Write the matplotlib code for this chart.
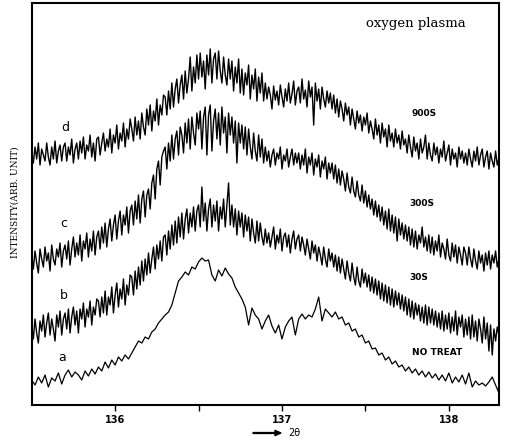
import numpy as np
import matplotlib
matplotlib.use("Agg")
import matplotlib.pyplot as plt

# 2-theta sampling grids (deg)
two_theta_a = np.round(np.linspace(135.5, 138.3, 141), 2)
two_theta = np.round(np.linspace(135.5, 138.3, 281), 2)

# intensity (arb. unit, offset traces)
no_treat = [25, 20, 28, 22, 30, 18, 27, 24, 32, 21, 30, 35, 28, 33, 30, 25, 34, 29, 36, 31,
            38, 34, 43, 37, 45, 40, 48, 44, 50, 46, 52, 58, 64, 62, 68, 66, 73, 76, 82, 86,
            90, 93, 100, 112, 124, 128, 133, 130, 138, 136, 143, 147, 144, 145, 130, 124, 135, 129, 137, 131,
            127, 118, 112, 106, 98, 80, 97, 90, 86, 76, 84, 90, 79, 72, 80, 66, 78, 84, 88, 70,
            86, 91, 86, 90, 88, 96, 108, 84, 96, 92, 88, 93, 86, 88, 80, 82, 74, 76, 68, 70,
            62, 64, 56, 57, 50, 52, 45, 48, 41, 44, 38, 40, 34, 38, 32, 36, 30, 34, 28, 33,
            27, 31, 25, 30, 24, 32, 22, 28, 23, 30, 21, 32, 18, 24, 20, 22, 19, 23, 28, 20, 12]

s30 = [80, 66, 86, 72, 62, 84, 74, 90, 68, 82, 92, 70, 86, 76, 64, 90, 78, 94, 70, 86,
       92, 76, 96, 72, 88, 98, 80, 94, 72, 96, 86, 102, 78, 96, 88, 104, 80, 98, 90, 106,
       104, 88, 108, 92, 114, 90, 108, 100, 118, 92, 110, 122, 98, 116, 106, 126, 100, 120, 110, 130,
       128, 110, 134, 116, 138, 120, 144, 124, 146, 130, 152, 132, 146, 158, 136, 160, 146, 164, 144, 168,
       170, 150, 174, 156, 180, 160, 184, 162, 188, 168, 192, 166, 186, 196, 172, 192, 178, 198, 174, 194,
       200, 178, 218, 184, 202, 174, 196, 206, 178, 200, 184, 204, 174, 198, 186, 206, 178, 200, 222, 180,
       200, 178, 196, 170, 194, 178, 192, 168, 190, 174, 188, 164, 186, 172, 162, 184, 164, 182, 168, 160,
       176, 162, 172, 158, 168, 178, 156, 170, 162, 176, 154, 168, 172, 158, 170, 152, 166, 174, 156, 166,
       170, 154, 168, 160, 150, 166, 156, 146, 164, 152, 160, 144, 158, 150, 140, 158, 146, 138, 156, 144,
       152, 138, 150, 134, 148, 132, 146, 136, 126, 144, 132, 124, 142, 128, 120, 138, 124, 118, 136, 122,
       132, 118, 130, 114, 128, 112, 126, 110, 124, 106, 122, 104, 120, 102, 118, 100, 116, 98, 114, 100,
       112, 96, 110, 94, 108, 90, 106, 88, 104, 86, 102, 90, 100, 84, 98, 82, 100, 80, 98, 82,
       96, 80, 94, 78, 92, 76, 94, 74, 90, 76, 92, 72, 88, 74, 94, 70, 88, 78, 90, 68,
       86, 70, 88, 66, 90, 68, 84, 64, 86, 76, 62, 88, 66, 82, 54, 80, 50, 76, 64, 78,
       70]

s300 = [150, 136, 154, 142, 132, 156, 146, 138, 158, 144, 152, 134, 160, 146, 140, 156, 148, 162, 138, 154,
        160, 146, 164, 140, 156, 168, 148, 162, 150, 170, 144, 164, 156, 172, 148, 166, 154, 174, 150, 168,
        174, 156, 178, 162, 182, 158, 176, 186, 164, 180, 190, 166, 184, 194, 170, 190, 180, 198, 172, 194,
        200, 180, 204, 186, 210, 182, 206, 214, 188, 210, 216, 196, 222, 230, 206, 236, 244, 220, 248, 254,
        258, 236, 262, 244, 270, 246, 266, 274, 250, 278, 270, 252, 282, 262, 286, 256, 288, 272, 260, 292,
        276, 294, 256, 288, 298, 250, 290, 300, 254, 284, 296, 266, 292, 260, 298, 272, 288, 252, 292, 270,
        288, 262, 284, 242, 282, 262, 280, 256, 278, 250, 276, 258, 246, 272, 254, 244, 270, 248, 266, 242,
        258, 244, 254, 238, 250, 256, 240, 252, 246, 258, 236, 250, 244, 256, 238, 248, 256, 240, 252, 242,
        252, 236, 250, 240, 256, 232, 248, 240, 252, 230, 246, 238, 250, 228, 244, 236, 248, 226, 242, 232,
        242, 226, 240, 222, 236, 220, 234, 226, 214, 232, 218, 212, 228, 214, 208, 224, 210, 204, 220, 202,
        214, 198, 210, 196, 206, 190, 204, 188, 200, 184, 198, 180, 194, 176, 196, 174, 190, 172, 188, 164,
        186, 170, 182, 166, 180, 164, 178, 160, 176, 158, 174, 156, 170, 162, 178, 158, 168, 154, 170, 152,
        168, 150, 164, 154, 170, 148, 162, 156, 146, 166, 150, 144, 162, 148, 160, 142, 158, 150, 140, 158,
        152, 140, 158, 146, 138, 156, 144, 136, 154, 142, 150, 134, 152, 140, 154, 136, 150, 142, 154, 138,
        146]

s900 = [254, 242, 258, 246, 262, 240, 256, 250, 244, 262, 248, 240, 258, 246, 264, 242, 254, 260, 244, 258,
        262, 244, 258, 250, 266, 242, 256, 262, 246, 264, 252, 268, 246, 260, 254, 270, 248, 262, 244, 266,
        268, 250, 262, 272, 254, 266, 258, 276, 252, 270, 262, 280, 256, 272, 264, 282, 258, 276, 266, 286,
        276, 264, 288, 270, 284, 266, 292, 278, 270, 296, 280, 300, 274, 294, 284, 306, 280, 300, 290, 310,
        308, 290, 314, 296, 322, 298, 316, 326, 302, 320, 330, 306, 334, 312, 326, 348, 314, 338, 322, 350,
        326, 352, 328, 344, 316, 350, 330, 356, 322, 346, 352, 326, 354, 334, 322, 348, 330, 320, 346, 326,
        344, 314, 338, 322, 346, 312, 336, 310, 332, 320, 340, 306, 330, 316, 336, 304, 328, 312, 332, 304,
        322, 306, 318, 310, 296, 319, 305, 314, 300, 320, 308, 298, 316, 304, 322, 302, 311, 324, 300, 314,
        318, 302, 326, 306, 315, 298, 324, 308, 318, 280, 322, 304, 316, 296, 318, 306, 298, 314, 302, 312,
        296, 310, 292, 306, 288, 304, 296, 284, 302, 290, 298, 280, 296, 286, 276, 294, 282, 290, 274, 288,
        280, 292, 272, 284, 276, 266, 286, 270, 280, 262, 282, 268, 276, 258, 280, 264, 272, 258, 276, 262,
        270, 256, 274, 260, 266, 252, 270, 258, 248, 268, 254, 262, 246, 266, 252, 258, 270, 246, 262, 250,
        244, 262, 250, 258, 242, 256, 248, 264, 244, 252, 260, 240, 256, 246, 252, 238, 258, 246, 254, 242,
        252, 240, 256, 246, 238, 254, 244, 258, 240, 250, 256, 238, 248, 254, 236, 252, 244, 238, 254, 240,
        247]

fig = plt.figure(figsize=(5.06, 4.42), dpi=100)
ax = fig.add_axes([0.0626, 0.0837, 0.9234, 0.9095])
ax.plot(two_theta_a, no_treat, color="black", lw=0.9)
for vals in (s30, s300, s900):
    ax.plot(two_theta, vals, color="black", lw=1.0)

ax.set_xlim(135.5, 138.3)
ax.set_ylim(0, 402)
ax.set_yticks([])
ax.set_xticks([136, 137, 138])
ax.set_xticklabels(["136", "137", "138"], fontsize=7, fontweight="bold")
ax.set_xticks([136.5, 137.5], minor=True)
ax.tick_params(axis="x", which="both", direction="out", length=4, width=1, pad=3)
for sp in ax.spines.values():
    sp.set_linewidth(1.5)

# curve letters and labels
ax.text(135.70, 278, "d", fontsize=9, ha="center", va="center")
ax.text(135.69, 182, "c", fontsize=9, ha="center", va="center")
ax.text(135.69, 110, "b", fontsize=9, ha="center", va="center")
ax.text(135.68, 48, "a", fontsize=9, ha="center", va="center")
ax.text(137.85, 292, "900S", fontsize=6.5, ha="center", va="center", fontweight="bold")
ax.text(137.84, 202, "300S", fontsize=6.5, ha="center", va="center", fontweight="bold")
ax.text(137.82, 128, "30S", fontsize=6.5, ha="center", va="center", fontweight="bold")
ax.text(137.93, 53, "NO TREAT", fontsize=6.5, ha="center", va="center", fontweight="bold")
ax.text(137.80, 382, "oxygen plasma", fontsize=9.5, ha="center", va="center", family="DejaVu Serif")

fig.text(15 / 506, 1 - 202 / 442, "INTENSITY(ARB. UNIT)", rotation=90, fontsize=6.5,
         ha="center", va="center", family="DejaVu Serif")
fig.patches.append(matplotlib.patches.FancyArrow(253 / 506, 1 - 433 / 442, 28 / 506, 0,
                                                 width=0.002, head_width=0.012, head_length=0.012,
                                                 color="black", transform=fig.transFigure,
                                                 length_includes_head=True))
fig.text(288 / 506, 1 - 433 / 442, "2θ", fontsize=7, ha="left", va="center")

fig.savefig("out.png", dpi=100)
